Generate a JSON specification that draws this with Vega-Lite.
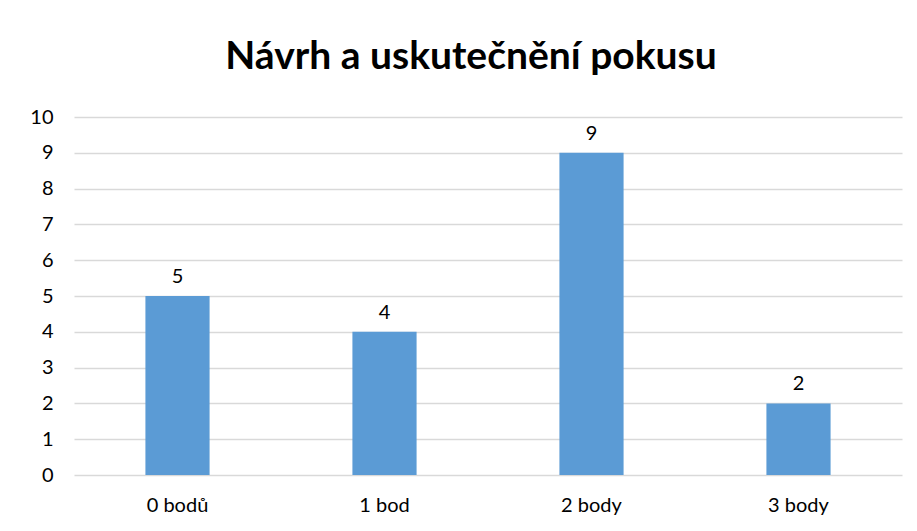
{
  "$schema": "https://vega.github.io/schema/vega-lite/v6.json",
  "width": 828,
  "height": 358,
  "autosize": {"type": "none"},
  "padding": {"left": 74, "top": 117, "right": 15, "bottom": 56},
  "background": "white",
  "title": {
    "text": "Návrh a uskutečnění pokusu",
    "font": "Lato",
    "fontSize": 39,
    "fontWeight": "bold",
    "color": "#000000",
    "anchor": "middle",
    "dx": -17,
    "offset": 30
  },
  "data": {
    "values": [
      {"kategorie": "0 bodů", "pocet": 5},
      {"kategorie": "1 bod", "pocet": 4},
      {"kategorie": "2 body", "pocet": 9},
      {"kategorie": "3 body", "pocet": 2}
    ]
  },
  "encoding": {
    "x": {
      "field": "kategorie",
      "type": "nominal",
      "sort": null,
      "scale": {"paddingInner": 0.69, "paddingOuter": 0.345},
      "axis": {
        "title": null,
        "labelAngle": 0,
        "domain": false,
        "ticks": false,
        "labelPadding": 20,
        "labelFont": "Lato",
        "labelFontSize": 20,
        "labelColor": "#000000"
      }
    },
    "y": {
      "field": "pocet",
      "type": "quantitative",
      "scale": {"domain": [0, 10]},
      "axis": {
        "title": null,
        "values": [0,1,2,3,4,5,6,7,8,9,10],
        "domain": false,
        "ticks": false,
        "labelPadding": 21,
        "labelFont": "Lato",
        "labelFontSize": 20,
        "labelColor": "#000000",
        "gridColor": "#d9d9d9",
        "gridWidth": 1.3
      }
    }
  },
  "layer": [
    {"mark": {"type": "bar", "color": "#5b9bd5"}},
    {
      "mark": {"type": "text", "baseline": "bottom", "dy": -9, "font": "Lato", "fontSize": 20, "color": "#000000"},
      "encoding": {"text": {"field": "pocet", "type": "quantitative"}}
    }
  ],
  "config": {"view": {"stroke": null}}
}
